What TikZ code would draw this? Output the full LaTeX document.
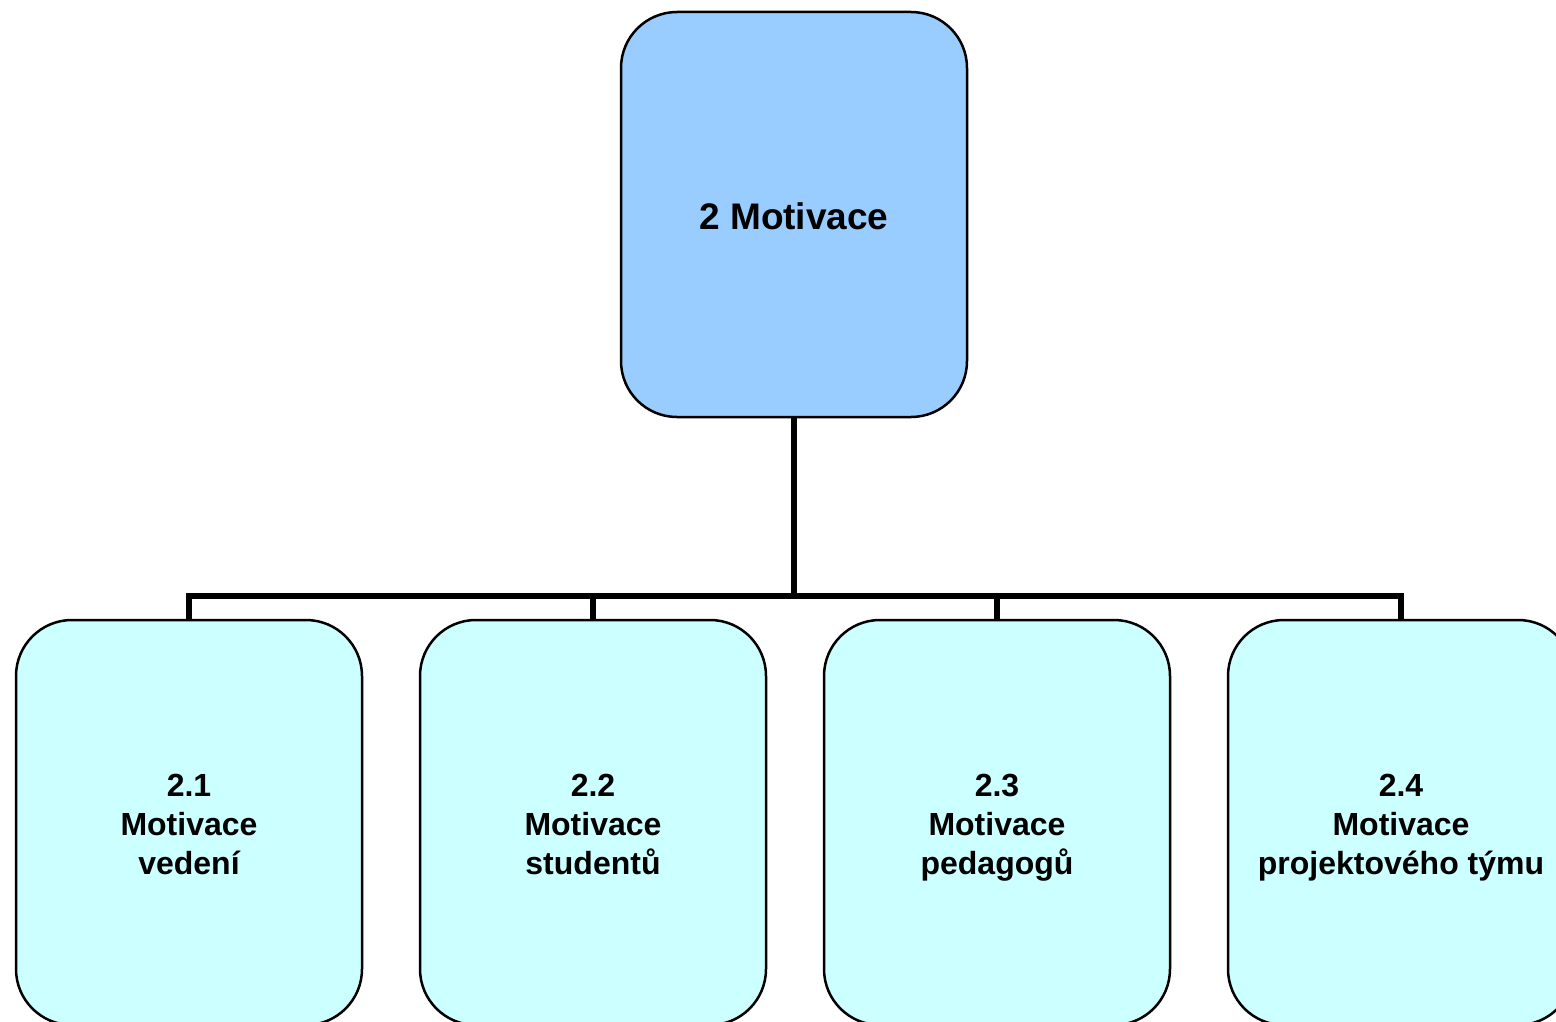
\documentclass[tikz,border=0pt]{standalone}
\usepackage{fontspec}
\setmainfont{Liberation Sans}
\definecolor{topfill}{HTML}{99CCFF}
\definecolor{subfill}{HTML}{CCFFFF}
\begin{document}
\begin{tikzpicture}[x=1pt,y=-1pt,
  topbox/.style={draw=black, line width=2.5pt, fill=topfill, rounded corners=56pt,
    minimum width=346pt, minimum height=405pt, inner sep=0pt},
  subbox/.style={draw=black, line width=2.5pt, fill=subfill, rounded corners=56pt,
    minimum width=346pt, minimum height=405pt, inner sep=0pt},
  toptext/.style={inner sep=0pt, font=\fontsize{37}{44}\selectfont\bfseries, align=center},
  subtext/.style={inner sep=0pt, font=\fontsize{32}{39}\selectfont\bfseries, align=center},
  conn/.style={draw=black, line width=6pt, line join=miter}]
\useasboundingbox (0,0) rectangle (1556,1022);
\node[topbox] (top) at (794,214.5) {};
\node[toptext] (t0) at ([yshift=-2pt]top.center) {2 Motivace};
\node[subbox] (b1) at (189,822.5) {};
\node[subbox] (b2) at (593,822.5) {};
\node[subbox] (b3) at (997,822.5) {};
\node[subbox] (b4) at (1401,822.5) {};
\node[subtext] (t1) at ([yshift=-5.5pt]b1.center) {2.1\\Motivace\\vedení\vphantom{gý}};
\node[subtext] (t2) at ([yshift=-5.5pt]b2.center) {2.2\\Motivace\\studentů\vphantom{gý}};
\node[subtext] (t3) at ([yshift=-5.5pt]b3.center) {2.3\\Motivace\\pedagogů\vphantom{gý}};
\node[subtext] (t4) at ([yshift=-5.5pt]b4.center) {2.4\\Motivace\\projektového týmu\vphantom{gý}};
\coordinate (bus) at (794,596);
\draw[conn] (top.south) -- (bus);
\draw[conn] (b1.north) -- (b1.north |- bus) -- (b4.north |- bus) -- (b4.north);
\draw[conn] (b2.north) -- (b2.north |- bus);
\draw[conn] (b3.north) -- (b3.north |- bus);
\end{tikzpicture}
\end{document}
